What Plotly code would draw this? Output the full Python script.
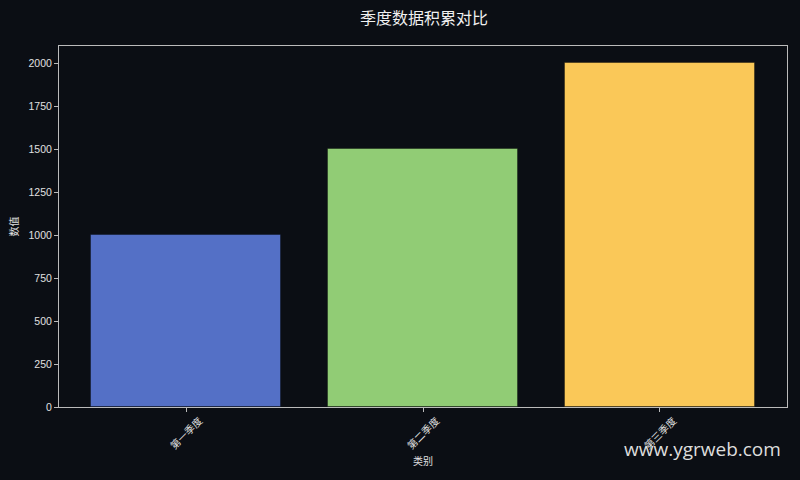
import plotly.graph_objects as go

# chart data
categories = ["第一季度", "第二季度", "第三季度"]
values = [1000, 1500, 2000]
bar_colors = ["#5470c6", "#91cc75", "#fac858"]
y_ticks = [0, 250, 500, 750, 1000, 1250, 1500, 1750, 2000]

BG = "#0b0e14"
FONT = "Noto Sans CJK SC, DejaVu Sans, sans-serif"


def create_plot():
    fig = go.Figure()

    positions = list(range(len(categories)))

    fig.add_trace(
        go.Bar(
            x=positions,
            y=values,
            width=0.8,
            marker=dict(color=bar_colors, line=dict(color="rgba(0,0,0,0.35)", width=1)),
            showlegend=False,
        )
    )

    # category labels centred under their ticks, rotated like matplotlib does it
    label_notes = [
        dict(
            text=name,
            xref="x",
            yref="paper",
            x=pos,
            y=-0.072,
            xanchor="center",
            yanchor="middle",
            textangle=-45,
            showarrow=False,
            font=dict(size=10, color="#e0e0e0", family=FONT),
        )
        for pos, name in zip(positions, categories)
    ]

    fig.update_xaxes(
        tickvals=positions,
        ticktext=["" for _ in categories],
        range=[-0.536, 2.536],
        showgrid=False,
        zeroline=False,
        showline=True,
        linecolor="#bbbbbb",
        linewidth=1,
        mirror=True,
        ticks="outside",
        ticklen=4,
        tickcolor="#bbbbbb",
        title=dict(text="类别", font=dict(size=10, color="#e0e0e0", family=FONT), standoff=44),
    )
    fig.update_yaxes(
        tickvals=y_ticks,
        range=[0, 2100],
        showgrid=False,
        zeroline=False,
        showline=True,
        linecolor="#bbbbbb",
        linewidth=1,
        mirror=True,
        ticks="outside",
        ticklen=4,
        tickcolor="#bbbbbb",
        tickfont=dict(size=10.5, color="#e0e0e0", family="Liberation Sans, Arial, sans-serif"),
        title=dict(text="数值", font=dict(size=10, color="#e0e0e0", family=FONT), standoff=8),
    )

    fig.update_layout(
        width=800,
        height=480,
        paper_bgcolor=BG,
        plot_bgcolor=BG,
        margin=dict(l=59, r=13, t=46, b=73),
        bargap=0,
        title=dict(
            text="季度数据积累对比",
            x=0.53,
            xanchor="center",
            y=0.962,
            yanchor="middle",
            font=dict(size=16, color="#f0f0f0", family=FONT),
        ),
        annotations=label_notes + [
            dict(
                text="www.ygrweb.com",
                xref="paper",
                yref="paper",
                x=0.995,
                y=-0.115,
                xanchor="right",
                yanchor="middle",
                showarrow=False,
                font=dict(size=19, color="#dddddd", family="Open Sans, sans-serif"),
            )
        ],
    )
    return fig


def main():
    fig = create_plot()
    # drop the default page margin so the figure fills the window
    fig.write_html(
        "out.html",
        config={"displayModeBar": False},
        post_script="document.body.style.margin='0';document.body.style.background='#0b0e14';",
    )


if __name__ == "__main__":
    main()
